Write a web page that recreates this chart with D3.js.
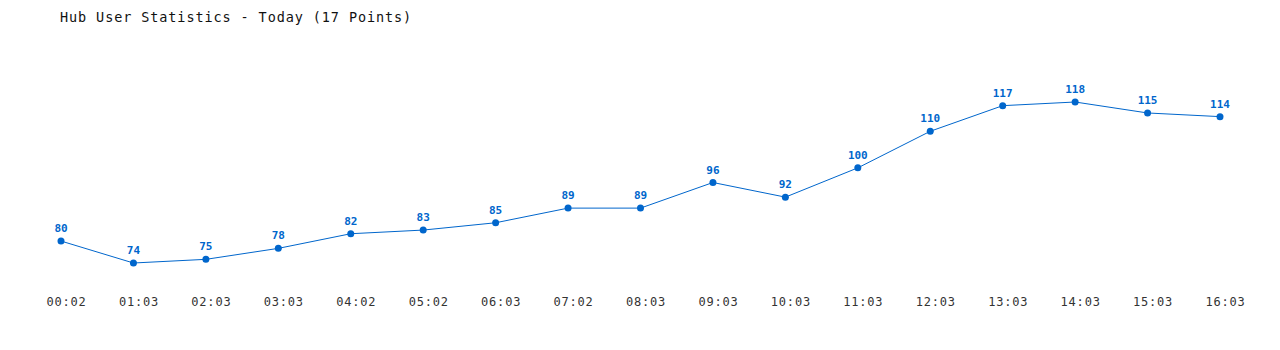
<!DOCTYPE html>
<html>
<head>
<meta charset="utf-8">
<title>Hub User Statistics</title>
<script src="https://d3js.org/d3.v7.min.js"></script>
<style>
    body { margin: 0; background: #fff; }
    text { font-family: "DejaVu Sans Mono", "Liberation Mono", monospace; }
</style>
</head>
<body>
<div id="chart"></div>
<script>
var times = ["00:02","01:03","02:03","03:03","04:02","05:02","06:03","07:02","08:03",
             "09:03","10:03","11:03","12:03","13:03","14:03","15:03","16:03"];
var users = [80, 74, 75, 78, 82, 83, 85, 89, 89, 96, 92, 100, 110, 117, 118, 115, 114];

var width = 1280, height = 350;
var blue = "#0066cc";

var svg = d3.select("#chart").append("svg")
    .attr("width", width)
    .attr("height", height);

svg.append("text")
    .attr("x", 60)
    .attr("y", 22)
    .attr("font-size", 13.5)
    .attr("letter-spacing", 0.9)
    .attr("fill", "#111")
    .text("Hub User Statistics - Today (17 Points)");

var x = d3.scalePoint()
    .domain(times)
    .range([61, 1220]);

var y = d3.scaleLinear()
    .domain([74, 118])
    .range([263, 102]);

var data = times.map(function(t, i) { return { t: t, v: users[i] }; });

var line = d3.line()
    .x(function(d) { return x(d.t); })
    .y(function(d) { return y(d.v); });

svg.append("path")
    .datum(data)
    .attr("fill", "none")
    .attr("stroke", blue)
    .attr("stroke-width", 1)
    .attr("d", line);

svg.selectAll("circle")
    .data(data)
    .enter().append("circle")
    .attr("cx", function(d) { return x(d.t); })
    .attr("cy", function(d) { return y(d.v); })
    .attr("r", 3.5)
    .attr("fill", blue);

svg.selectAll("text.val")
    .data(data)
    .enter().append("text")
    .attr("class", "val")
    .attr("x", function(d) { return x(d.t); })
    .attr("y", function(d) { return y(d.v) - 9; })
    .attr("text-anchor", "middle")
    .attr("font-size", 11)
    .attr("font-weight", "bold")
    .attr("fill", blue)
    .text(function(d) { return d.v; });

// x axis labels only, no axis line; labels sit a little right of the points
var xAxis = svg.append("g")
    .attr("transform", "translate(5,295)")
    .call(d3.axisBottom(x).tickSize(0).tickPadding(0));
xAxis.select(".domain").remove();
xAxis.selectAll("text")
    .attr("font-family", "DejaVu Sans Mono, monospace")
    .attr("font-size", 12)
    .attr("letter-spacing", 0.8)
    .attr("fill", "#333")
    .attr("dy", "0.71em")
    .attr("y", 2);
</script>
</body>
</html>
